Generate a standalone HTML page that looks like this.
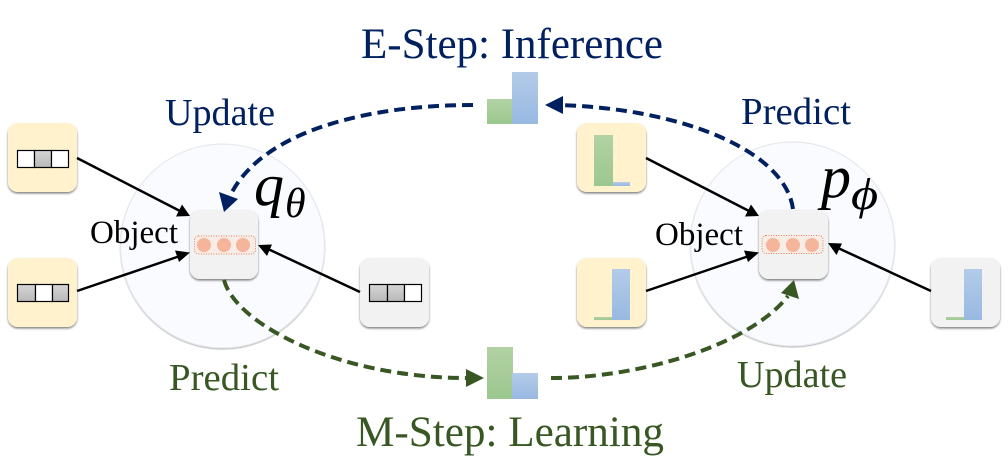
<!DOCTYPE html>
<html><head><meta charset="utf-8"><style>
html,body{margin:0;padding:0;background:#fff;width:1008px;height:461px;overflow:hidden}
svg{display:block}
text{font-family:"Liberation Serif",serif}
</style></head><body>
<svg width="1008" height="461" viewBox="0 0 1008 461" xmlns="http://www.w3.org/2000/svg">
<defs>
<linearGradient id="g" x1="0" y1="0" x2="0" y2="1"><stop offset="0" stop-color="#b2d2a4"/><stop offset="1" stop-color="#9cc78f"/></linearGradient>
<linearGradient id="b" x1="0" y1="0" x2="0" y2="1"><stop offset="0" stop-color="#b3cbe8"/><stop offset="1" stop-color="#98b9e2"/></linearGradient>
<linearGradient id="c" x1="0" y1="0" x2="0" y2="1"><stop offset="0" stop-color="#d6d6d6"/><stop offset="1" stop-color="#b8b8b8"/></linearGradient>
<filter id="s" x="-15%" y="-15%" width="130%" height="130%"><feDropShadow dx="0" dy="1.500" stdDeviation="1" flood-color="#000" flood-opacity=".5"/></filter>
<filter id="cs" x="-5%" y="-5%" width="110%" height="110%"><feDropShadow dx="0" dy="1" stdDeviation=".6" flood-color="#000" flood-opacity=".3"/></filter>
</defs>

<circle cx="222.500" cy="246" r="102" fill="#f9fbff" stroke="#e4e6ec" stroke-width="1" filter="url(#cs)"/>
<circle cx="792.500" cy="244" r="102" fill="#f9fbff" stroke="#e4e6ec" stroke-width="1" filter="url(#cs)"/>

<g filter="url(#s)">
<rect x="8" y="123" width="69" height="69" rx="10" fill="#fff2cc"/>
<rect x="8" y="258" width="69" height="69" rx="10" fill="#fff2cc"/>
<rect x="190" y="210" width="68" height="69" rx="10" fill="#f2f2f2"/>
<rect x="360" y="258" width="69" height="69" rx="10" fill="#f2f2f2"/>
<rect x="577" y="123" width="69" height="69" rx="10" fill="#fff2cc"/>
<rect x="577" y="258" width="69" height="69" rx="10" fill="#fff2cc"/>
<rect x="759" y="210" width="69" height="69" rx="10" fill="#f2f2f2"/>
<rect x="931" y="258" width="69" height="69" rx="10" fill="#f2f2f2"/>
</g>

<!-- cell strips -->
<g stroke="#000" stroke-width="1.200">
<rect x="17.500" y="150.500" width="17" height="17" fill="#fff"/><rect x="34.500" y="150.500" width="17" height="17" fill="url(#c)"/><rect x="51.500" y="150.500" width="17" height="17" fill="#fff"/>
<rect x="17.500" y="284.500" width="18" height="17" fill="url(#c)"/><rect x="35.500" y="284.500" width="17" height="17" fill="#fff"/><rect x="52.500" y="284.500" width="16" height="17" fill="url(#c)"/>
<rect x="369.500" y="284.500" width="18" height="17" fill="url(#c)"/><rect x="387.500" y="284.500" width="17" height="17" fill="url(#c)"/><rect x="404.500" y="284.500" width="17" height="17" fill="#fff"/>
</g>

<!-- bars -->
<rect x="594" y="135" width="19" height="51" fill="url(#g)"/><rect x="613" y="182" width="17" height="4" fill="url(#b)"/>
<rect x="594" y="317" width="18" height="3" fill="url(#g)"/><rect x="612" y="269" width="18" height="51" fill="url(#b)"/>
<rect x="946" y="317" width="18" height="3" fill="url(#g)"/><rect x="964" y="269" width="18" height="51" fill="url(#b)"/>
<rect x="487" y="99" width="25" height="25" fill="url(#g)"/><rect x="512" y="72" width="26" height="52" fill="url(#b)"/>
<rect x="487" y="347" width="26" height="52" fill="url(#g)"/><rect x="512" y="373" width="26" height="26" fill="url(#b)"/>

<!-- dots -->
<rect x="194.500" y="236" width="61" height="18" rx="4" fill="#f7ece6" stroke="#e8805a" stroke-width="1" stroke-dasharray="1 1.500"/>
<circle cx="204" cy="245" r="7" fill="#f4b59b"/><circle cx="224" cy="245" r="7" fill="#f4b59b"/><circle cx="243" cy="245" r="7" fill="#f4b59b"/>
<rect x="762" y="235.500" width="61" height="18" rx="4" fill="#f7ece6" stroke="#e8805a" stroke-width="1" stroke-dasharray="1 1.500"/>
<circle cx="773" cy="245" r="7" fill="#f4b59b"/><circle cx="793" cy="245" r="7" fill="#f4b59b"/><circle cx="812" cy="245" r="7" fill="#f4b59b"/>

<!-- solid arrows -->
<g stroke="#000" stroke-width="2.500" fill="none">
<path d="M77 158L180 211"/><path d="M77 291L180 256"/><path d="M360 292L268 249"/>
<path d="M646 158L749 211"/><path d="M646 291L749 256"/><path d="M931 291L838 248"/>
</g>
<g fill="#000">
<polygon points="190,216 176,216.500 182,204.500"/>
<polygon points="190,252.500 179,262 175,250.500"/>
<polygon points="258,245 272,244.500 267,256"/>
<polygon points="759,216 745,216.500 751,204.500"/>
<polygon points="759,252.500 748,262 744,250.500"/>
<polygon points="828,243 842,243.500 836.500,255"/>
</g>

<!-- dashed curves -->
<g fill="none" stroke-width="4" stroke-dasharray="11 6">
<path d="M473 105C370 105 262 130 230 196" stroke="#002060"/>
<path d="M793 209C785 150 680 108 557 105" stroke="#002060"/>
<path d="M224 280C236 325 340 378 467 378" stroke="#385723"/>
<path d="M551 378C640 378 750 345 788 296" stroke="#385723"/>
</g>
<polygon points="224,212 219,192 238,199" fill="#002060"/>
<polygon points="545,105 563,96 563,114" fill="#002060"/>
<polygon points="484,378 466,369 466,387" fill="#385723"/>
<polygon points="794,280 799,299 781,293" fill="#385723"/>

<!-- labels -->
<text x="361" y="58" font-size="43" fill="#002060" textLength="302" lengthAdjust="spacingAndGlyphs">E-Step: Inference</text>
<text x="356" y="446" font-size="43" fill="#385723" textLength="308" lengthAdjust="spacingAndGlyphs">M-Step: Learning</text>
<text x="165" y="125" font-size="38" fill="#002060" textLength="110" lengthAdjust="spacingAndGlyphs">Update</text>
<text x="741" y="124" font-size="38.500" fill="#002060" textLength="110" lengthAdjust="spacingAndGlyphs">Predict</text>
<text x="169" y="390" font-size="38.500" fill="#385723" textLength="110" lengthAdjust="spacingAndGlyphs">Predict</text>
<text x="737" y="387" font-size="38" fill="#385723" textLength="110" lengthAdjust="spacingAndGlyphs">Update</text>
<text x="90" y="243" font-size="33" fill="#000" textLength="88" lengthAdjust="spacingAndGlyphs">Object</text>
<text x="655" y="245" font-size="33" fill="#000" textLength="88" lengthAdjust="spacingAndGlyphs">Object</text>
<text x="254" y="205" font-size="60" font-style="italic" fill="#000">q</text>
<text x="285" y="217" font-size="42" font-style="italic" fill="#000">θ</text>
<text x="821" y="197" font-size="60" font-style="italic" fill="#000">p</text>
<text transform="translate(851 209) scale(1.250 1.050)" font-size="42" font-style="italic" fill="#000">ϕ</text>
</svg>
</body></html>
